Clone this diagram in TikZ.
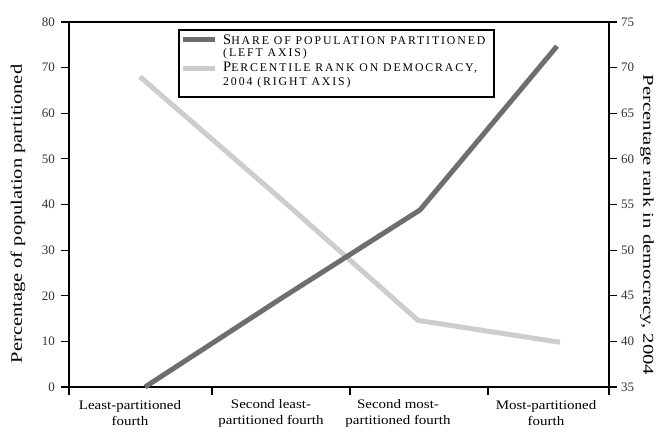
\documentclass[tikz,border=0pt]{standalone}
\usepackage{fontspec}
\setmainfont{Liberation Serif}
\definecolor{darkser}{HTML}{6E6E6E}
\definecolor{lightser}{HTML}{CDCDCD}
\newcommand{\fsc}[2]{{\fontsize{14.5}{15}\selectfont #1}{\fontsize{11.8}{15}\selectfont\addfontfeature{LetterSpace=16}#2}}
\tikzset{
  axisline/.style={black, line width=1.4pt},
  tickline/.style={black, line width=1.1pt},
  darkline/.style={darkser, line width=5pt, line join=round},
  lightline/.style={lightser, line width=5pt, line join=round},
  ticklab/.style={font=\fontsize{13}{14}\selectfont, text=black!80, inner sep=0pt},
  catlab/.style={font=\fontsize{13}{16}\selectfont, align=center, inner sep=0pt},
  axtitle/.style={font=\fontsize{16}{18}\selectfont, inner sep=0pt},
  lgtext/.style={anchor=west, inner sep=0pt},
  swatch/.style={minimum width=32pt, minimum height=5pt, inner sep=0pt}
}
\begin{document}
\begin{tikzpicture}[x=1pt,y=-1pt]
\useasboundingbox (0,0) rectangle (658,436);
% frame
\coordinate (tl) at (69,22);
\coordinate (tr) at (609,22);
\coordinate (bl) at (69,387);
\coordinate (br) at (609,387);
\draw[axisline] (tl) -- (tr) -- (br) -- (bl) -- cycle;
% left ticks
\foreach \v in {0,10,...,80}{
  \draw[tickline] (61,{387-\v*4.5625}) -- (69,{387-\v*4.5625});
  \node[ticklab, anchor=east] (L\v) at (55,{387-\v*4.5625}) {\v};
}
% right ticks
\foreach \v in {35,40,...,75}{
  \draw[tickline] (609,{387-(\v-35)*9.125}) -- (617,{387-(\v-35)*9.125});
  \node[ticklab, anchor=west] (R\v) at (621,{387-(\v-35)*9.125}) {\v};
}
% bottom ticks
\foreach \x in {69,212,350,488,609}{
  \draw[tickline] (\x,387) -- (\x,395);
}
% category labels
\node[catlab] (c1) at (130,413) {\scalebox{1.15}[1]{Least-partitioned}\\\scalebox{1.15}[1]{fourth}};
\node[catlab] (c2) at (271,413) {\scalebox{1.15}[1]{Second least-}\\\scalebox{1.15}[1]{partitioned fourth}};
\node[catlab] (c3) at (398,413) {\scalebox{1.15}[1]{Second most-}\\\scalebox{1.15}[1]{partitioned fourth}};
\node[catlab] (c4) at (546,413) {\scalebox{1.15}[1]{Most-partitioned}\\\scalebox{1.15}[1]{fourth}};
% axis titles
\node[axtitle, rotate=90] (ylab) at (18,214) {\scalebox{1.28}[1]{Percentage of population partitioned}};
\node[axtitle, font=\fontsize{15}{17}\selectfont, rotate=-90] (y2lab) at (647,225) {\scalebox{1.38}[1]{Percentage rank in democracy, 2004}};
% data
\coordinate (d1) at (145,{387-0*4.5625});
\coordinate (d2) at (281,{387-19.4*4.5625});
\coordinate (d3) at (420,{387-38.8*4.5625});
\coordinate (d4) at (557,{387-74.7*4.5625});
\coordinate (p1) at (140,{387-(69.0-35)*9.125});
\coordinate (p2) at (281,{387-(55.6-35)*9.125});
\coordinate (p3) at (418,{387-(42.3-35)*9.125});
\coordinate (p4) at (560,{387-(39.9-35)*9.125});
\draw[lightline] (p1) -- (p2) -- (p3) -- (p4);
\draw[darkline] (d1) -- (d2) -- (d3) -- (d4);
% legend
\node[draw=black, line width=1.3pt, fill=white, minimum width=315pt, minimum height=67pt, inner sep=0pt] (legend) at (336.5,63.5) {};
\node[swatch, fill=darkser] (sw1) at (199,40) {};
\node[swatch, fill=lightser] (sw2) at (199,68) {};
\node[lgtext] (l1) at (223,40) {\fsc{S}{HARE OF POPULATION PARTITIONED}};
\node[lgtext] (l2) at (223,54) {\fsc{}{(LEFT AXIS)}};
\node[lgtext] (l3) at (223,68) {\fsc{P}{ERCENTILE RANK ON DEMOCRACY,}};
\node[lgtext] (l4) at (223,83) {\fsc{}{2004 (RIGHT AXIS)}};
\end{tikzpicture}
\end{document}
